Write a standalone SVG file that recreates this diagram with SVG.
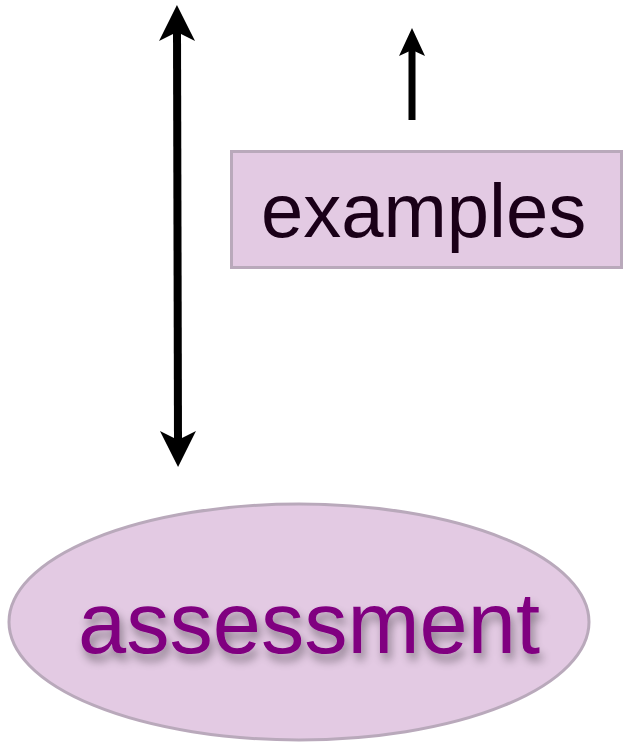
<svg xmlns="http://www.w3.org/2000/svg" width="640" height="742" viewBox="0 0 640 742">
<style>
.conn{stroke:#000;fill:none;stroke-linecap:butt}
.node{fill:#e3cae3;stroke:#b9a9bb;stroke-width:3}
.lbl{font-family:"Liberation Sans",Arial,sans-serif}
</style>
<defs>
<marker id="ahBig" markerUnits="userSpaceOnUse" markerWidth="38" markerHeight="38" refX="12" refY="18" orient="auto" overflow="visible">
<path d="M0,0 L36,18 L0,36 L9,18 Z" fill="#000"/>
</marker>
<marker id="ahBigStart" markerUnits="userSpaceOnUse" markerWidth="38" markerHeight="38" refX="24" refY="18" orient="auto" overflow="visible">
<path d="M36,0 L0,18 L36,36 L27,18 Z" fill="#000"/>
</marker>
<marker id="ahSmall" markerUnits="userSpaceOnUse" markerWidth="30" markerHeight="28" refX="9" refY="13" orient="auto" overflow="visible">
<path d="M0,0 L28,13 L0,26 L6,13 Z" fill="#000"/>
</marker>
<filter id="shadow" x="-10%" y="-30%" width="120%" height="160%">
<feGaussianBlur in="SourceAlpha" stdDeviation="5"/>
<feOffset dx="3" dy="7" result="b"/>
<feComponentTransfer><feFuncA type="linear" slope="0.4"/></feComponentTransfer>
<feMerge><feMergeNode/><feMergeNode in="SourceGraphic"/></feMerge>
</filter>
</defs>
<g id="connectors">
<line class="conn" x1="177" y1="29" x2="178" y2="443" stroke-width="8" marker-start="url(#ahBigStart)" marker-end="url(#ahBig)"/>
<line class="conn" x1="412" y1="120" x2="412" y2="47" stroke-width="7" marker-end="url(#ahSmall)"/>
</g>
<g id="examples">
<rect class="node" x="231.5" y="151.5" width="390" height="116"/>
<text class="lbl" x="261" y="237" font-size="76" fill="#1a0018">examples</text>
</g>
<g id="assessment">
<ellipse class="node" cx="299" cy="622" rx="290" ry="118"/>
<text class="lbl" x="78" y="653" font-size="87" fill="#800080" filter="url(#shadow)" textLength="462" lengthAdjust="spacingAndGlyphs">assessment</text>
</g>
</svg>
